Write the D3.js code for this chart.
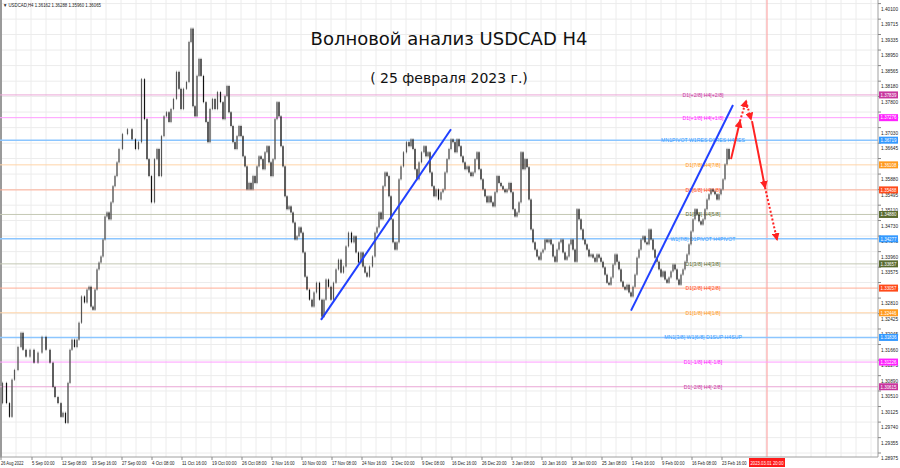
<!DOCTYPE html>
<html><head><meta charset="utf-8">
<script src="https://cdn.jsdelivr.net/npm/d3@7"></script>
<style>body{margin:0;background:#fff}svg{display:block;font-family:"Liberation Sans",sans-serif}</style>
</head><body><svg id="c" width="900" height="468"></svg>
<script>
// [bar number, close]
const bars=[[0,1.3021],[5,1.3071],[8,1.3021],[11,1.2987],[13,1.3079],[16,1.3103],[20,1.3160],[22,1.3195],[24,1.3153],[28,1.3136],[32,1.3153],[36,1.3121],[40,1.3146],[44,1.3185],[48,1.3153],[52,1.3121],[54,1.3061],[56,1.3036],[60,1.3021],[62,1.2987],[64,1.2997],[67,1.2972],[69,1.3071],[71,1.3153],[73,1.3178],[76,1.3160],[78,1.3178],[80,1.3220],[83,1.3285],[86,1.3270],[88,1.3302],[90,1.3309],[92,1.3260],[94,1.3252],[96,1.3302],[98,1.3352],[100,1.3369],[102,1.3384],[104,1.3426],[106,1.3483],[108,1.3493],[110,1.3476],[112,1.3518],[114,1.3558],[116,1.3583],[118,1.3617],[120,1.3650],[125,1.3687],[130,1.3699],[134,1.3674],[137,1.3650],[140,1.3667],
[143,1.3823],[146,1.3724],[148,1.3625],[150,1.3583],[153,1.3518],[156,1.3625],[158,1.3650],[160,1.3583],[163,1.3682],[165,1.3731],[168,1.3741],[170,1.3717],[172,1.3749],[175,1.3774],[178,1.3841],[180,1.3799],[182,1.3749],[185,1.3799],[188,1.3816],[190,1.3915],[192,1.3948],[194,1.3756],[196,1.3731],[198,1.3831],[200,1.3873],[202,1.3831],[205,1.3766],[207,1.3717],[209,1.3667],[211,1.3749],[214,1.3774],[216,1.3749],[219,1.3791],[222,1.3766],[224,1.3724],[226,1.3781],[228,1.3806],[230,1.3741],[232,1.3707],[234,1.3667],[236,1.3650],[238,1.3682],[240,1.3707],[242,1.3682],[244,1.3632],[246,1.3607],[248,1.3550],[250,1.3566],[252,1.3550],[254,1.3583],[256,1.3566],[258,1.3607],[260,1.3632],[262,1.3625],[264,1.3600],[266,1.3642],[268,1.3657],[270,1.3617],[272,1.3583],[274,1.3625],[276,1.3724],[278,1.3766],[280,1.3731],[282,1.3657],[284,1.3607],[286,1.3533],[288,1.3501],[290,1.3508],[292,1.3493],[294,1.3468],[296,1.3426],[298,1.3434],[300,1.3456],
[302,1.3443],[304,1.3394],[306,1.3334],[308,1.3302],[311,1.3277],[313,1.3260],[315,1.3295],[318,1.3319],[321,1.3277],[323,1.3235],[325,1.3277],[327,1.3327],[330,1.3309],[332,1.3277],[335,1.3319],[337,1.3352],[340,1.3376],[342,1.3344],[345,1.3359],[347,1.3409],[350,1.3443],[353,1.3419],[355,1.3434],[357,1.3394],[360,1.3369],[362,1.3394],[364,1.3359],[366,1.3344],[368,1.3334],[371,1.3359],[374,1.3384],[376,1.3443],[378,1.3456],[380,1.3493],[382,1.3476],[384,1.3558],[386,1.3592],[388,1.3583],[390,1.3533],[392,1.3476],[394,1.3419],[396,1.3401],[398,1.3419],[400,1.3575],[402,1.3607],[405,1.3642],[408,1.3667],[410,1.3657],[412,1.3674],[414,1.3650],[416,1.3600],[418,1.3575],[420,1.3617],[423,1.3642],[425,1.3657],[427,1.3632],[429,1.3642],[431,1.3592],[433,1.3558],[435,1.3533],[437,1.3550],[440,1.3525],[442,1.3543],[444,1.3550],[446,1.3592],[448,1.3625],[450,1.3650],[452,1.3674],[454,1.3667],[456,1.3642],[458,1.3674],[460,1.3657],[462,1.3632],[464,1.3617],[466,1.3600],[468,1.3607],[470,1.3592],[472,1.3583],[474,1.3592],[476,1.3625],[478,1.3642],[480,1.3600],[482,1.3575],[484,1.3550],[486,1.3533],[488,1.3518],[490,1.3533],[492,1.3518],[494,1.3508],[496,1.3543],[498,1.3583],[500,1.3566],[502,1.3558],[504,1.3550],[506,1.3543],[508,1.3550],[510,1.3566],[512,1.3543],[514,1.3501],[516,1.3483],[518,1.3493],[520,1.3518],[522,1.3642],[524,1.3600],[526,1.3625],[528,1.3605],
[530,1.3525],[532,1.3451],[534,1.3419],[536,1.3401],[538,1.3384],[540,1.3376],[542,1.3394],[544,1.3401],[546,1.3426],[548,1.3419],[550,1.3426],[552,1.3414],[554,1.3384],[556,1.3371],[558,1.3401],[560,1.3419],[562,1.3426],[564,1.3394],[566,1.3376],[568,1.3384],[570,1.3414],[572,1.3426],[574,1.3401],[576,1.3371],[578,1.3501],[580,1.3476],[582,1.3451],[584,1.3426],[586,1.3414],[588,1.3401],[590,1.3384],[592,1.3389],[594,1.3381],[596,1.3371],[598,1.3389],[600,1.3381],[602,1.3371],[604,1.3357],[606,1.3339],[608,1.3319],[610,1.3314],[612,1.3332],[614,1.3364],[616,1.3389],[618,1.3371],[620,1.3352],[622,1.3322],[624,1.3309],[626,1.3302],[628,1.3314],[630,1.3295],[632,1.3285],[634,1.3309],[636,1.3339],[638,1.3381],[640,1.3401],[642,1.3426],[644,1.3434],[646,1.3419],[648,1.3414],[650,1.3451],[652,1.3426],[654,1.3401],[656,1.3381],[658,1.3371],[660,1.3352],[662,1.3334],[664,1.3347],[666,1.3327],[668,1.3319],[670,1.3332],[672,1.3347],[674,1.3364],[676,1.3352],[678,1.3327],[680,1.3314],[682,1.3339],[684,1.3352],[686,1.3371],[688,1.3389],[690,1.3414],[692,1.3446],[694,1.3476],[696,1.3501],[698,1.3488],[700,1.3471],[702,1.3463],[704,1.3476],[706,1.3501],[708,1.3525],[710,1.3538],[712,1.3550],[714,1.3545],[716,1.3538],[718,1.3525],[720,1.3538],[722,1.3550],[724,1.3575],[726,1.3612],[728,1.3650],[730,1.3625]];

const levelPrices=[1.37839,1.37276,1.36719,1.36108,1.35488,1.34880,1.34277,1.33657,1.33057,1.32446,1.31836,1.31226,1.30615];
const levelNames=["D1[+2/8] H4[+2/8]","D1[+1/8] H4[+1/8]","MN1PIVOT W1RES D1RES H4RES","D1[7/8] H4[7/8]","D1[6/8] H4[6/8]","D1[5/8] H4[5/8]","W1[7/8] D1PIVOT H4PIVOT","D1[3/8] H4[3/8]","D1[2/8] H4[2/8]","D1[1/8] H4[1/8]","MN1[3/8] W1[6/8] D1SUP H4SUP","D1[-1/8] H4[-1/8]","D1[-2/8] H4[-2/8]"];
const levelColors=["#c8369e","#ff22ff","#3399ff","#ff9a1e","#ff4a1a","#5a6b30","#3399ff","#5a6b30","#ff4a1a","#ff9a1e","#3399ff","#ff22ff","#c8369e"];
const lineColors=["#eaa6d6","#ff9cff","#8cc6ff","#ffd4a8","#ffae96","#c4c8b4","#8cc6ff","#c4c8b4","#ffae96","#ffd4a8","#8cc6ff","#ff9cff","#eaa6d6"];

const priceTicks=["1.40100","1.39715","1.39335","1.38950","1.38565","1.38180","1.37800","1.37415","1.37030","1.36645","1.36265","1.35880","1.35495","1.35110","1.34730","1.34345","1.33960","1.33575","1.33195","1.32810","1.32425","1.32045","1.31660","1.31275","1.30890","1.30510","1.30125","1.29740","1.29355","1.28975"];
const dateTicks=[[0,"26 Aug 2022"],[31,"5 Sep 00:00"],[61,"12 Sep 08:00"],[91,"19 Sep 16:00"],[121,"27 Sep 00:00"],[151,"4 Oct 08:00"],[181,"11 Oct 16:00"],[211,"19 Oct 00:00"],[241,"26 Oct 08:00"],[271,"2 Nov 16:00"],[301,"10 Nov 00:00"],[331,"17 Nov 08:00"],[361,"24 Nov 16:00"],[391,"2 Dec 00:00"],[421,"9 Dec 08:00"],[451,"16 Dec 16:00"],[481,"26 Dec 20:00"],[511,"3 Jan 08:00"],[541,"10 Jan 16:00"],[571,"18 Jan 00:00"],[601,"25 Jan 08:00"],[631,"1 Feb 16:00"],[661,"9 Feb 00:00"],[691,"16 Feb 08:00"],[721,"23 Feb 16:00"]];
const markerBar=767, markerLabel="2023.03.01 20:00";
const trend1=[[321,1.3227],[451,1.3699]], trend2=[[631,1.3250],[733,1.3759]];
const forecast=[[731,1.3625],[740,1.3719],[746,1.3769],[751,1.3724],[752,1.3719],[765,1.3555],[777,1.3426]];
const forecastStyle=["solid","dot","dot","none","solid","dot"];

const svg=d3.select("#c");
const x=d3.scaleLinear().domain([0,878]).range([0,878]);
const y=d3.scaleLinear().domain([1.28975,1.401]).range([453,3.6]);
const R=878,B=457;
const defs=svg.append("defs");
defs.append("marker").attr("id","ah").attr("viewBox","0 0 10 10").attr("refX",8).attr("refY",5)
 .attr("markerWidth",4).attr("markerHeight",4).attr("orient","auto")
 .append("path").attr("d","M0,0L10,5L0,10z").attr("fill","#ff2222");

// small text helper: draws at 2x size then scales down (avoids minimum font size)
function tiny(sel,tx,ty,str,opt={}){
 const t=sel.append("text").attr("transform",`translate(${tx},${ty}) scale(0.5)`)
  .attr("font-size",(opt.size||5)*2).attr("fill",opt.fill||"#222").attr("text-anchor",opt.anchor||"start").text(str);
 if(opt.len) t.attr("textLength",opt.len*2).attr("lengthAdjust","spacingAndGlyphs");
 return t;}

// grid
const g=svg.append("g");
for(let gx=1;gx<R;gx+=15) g.append("line").attr("x1",gx).attr("x2",gx).attr("y1",0).attr("y2",B).attr("stroke","#ececec");
priceTicks.forEach(t=>{const yy=y(+t);g.append("line").attr("x1",0).attr("x2",R).attr("y1",yy).attr("y2",yy).attr("stroke","#ececec");});
svg.append("rect").attr("x",0).attr("y",0).attr("width",2).attr("height",B).attr("fill","#9a9a9a");

svg.append("line").attr("x1",x(markerBar)).attr("x2",x(markerBar)).attr("y1",0).attr("y2",B).attr("stroke","#ff9a9a");

// levels
levelPrices.forEach((p,i)=>{
 svg.append("line").attr("x1",0).attr("x2",R).attr("y1",y(p)).attr("y2",y(p)).attr("stroke",lineColors[i]).attr("stroke-width",levelColors[i]=="#3399ff"?1.6:1);
 tiny(svg,703,y(p)+2,levelNames[i],{size:5.2,fill:levelColors[i],anchor:"middle"});
});

// candles
const cg=svg.append("g");
bars.forEach((d,i)=>{ if(i==0) return; const o=bars[i-1][1],c=d[1];
 const x0=x(bars[i-1][0]), x1=x(d[0]);
 const top=y(Math.max(o,c)), bot=y(Math.min(o,c));
 const xm=(x0+x1)/2;
 cg.append("line").attr("x1",xm).attr("x2",xm).attr("y1",top-1.2).attr("y2",bot+1.2).attr("stroke","#777").attr("stroke-width",0.6);
 cg.append("rect").attr("x",xm-0.6).attr("y",top).attr("width",1.2).attr("height",Math.max(0.8,bot-top))
  .attr("fill",c>=o?"#555":"#111");
});

[trend1,trend2].forEach(t=>svg.append("line").attr("x1",x(t[0][0])).attr("y1",y(t[0][1])).attr("x2",x(t[1][0])).attr("y2",y(t[1][1])).attr("stroke","#2040ff").attr("stroke-width",2));
for(let i=0;i<forecast.length-1;i++){ const s=forecastStyle[i]; if(s=="none") continue;
 svg.append("line").attr("x1",x(forecast[i][0])).attr("y1",y(forecast[i][1])).attr("x2",x(forecast[i+1][0])).attr("y2",y(forecast[i+1][1]))
  .attr("stroke","#ff2222").attr("stroke-width",2).attr("stroke-dasharray",s=="dot"?"2,2":null).attr("marker-end","url(#ah)");}

// axes
svg.append("line").attr("x1",R).attr("x2",R).attr("y1",0).attr("y2",B).attr("stroke","#a0a0a0");
svg.append("line").attr("x1",0).attr("x2",R).attr("y1",B).attr("y2",B).attr("stroke","#a0a0a0");
priceTicks.forEach(t=>{svg.append("line").attr("x1",R).attr("x2",R+3).attr("y1",y(+t)).attr("y2",y(+t)).attr("stroke","#888");
 tiny(svg,881,y(+t)+7,t,{size:5,len:17});});
levelPrices.forEach((p,i)=>{svg.append("rect").attr("x",879).attr("y",y(p)-3.5).attr("width",19).attr("height",7).attr("fill",levelColors[i]);
 tiny(svg,880.5,y(p)+1.8,p.toFixed(5),{size:5,len:16,fill:"#fff"});});
dateTicks.forEach(([b,l])=>{svg.append("line").attr("x1",x(b)+1).attr("x2",x(b)+1).attr("y1",B).attr("y2",B+3).attr("stroke","#888");
 tiny(svg,x(b)+1,465,l,{size:5,len:l.length*2.05});});
svg.append("rect").attr("x",x(markerBar)-18).attr("y",458).attr("width",36).attr("height",9).attr("fill","#ff1a1a");
tiny(svg,x(markerBar),465,markerLabel,{size:5,fill:"#fff",anchor:"middle",len:33});

tiny(svg,3,7,"▼ USDCAD,H4  1.36162 1.36288 1.35960 1.36065",{size:5,len:98});
svg.append("text").attr("x",449).attr("y",45).attr("text-anchor","middle").attr("font-size",18).attr("font-family","DejaVu Sans").attr("fill","#111").text("Волновой анализ USDCAD H4");
svg.append("text").attr("x",449).attr("y",83).attr("text-anchor","middle").attr("font-size",14).attr("font-family","DejaVu Sans").attr("fill","#111").text("( 25 февраля 2023 г.)");
</script></body></html>
